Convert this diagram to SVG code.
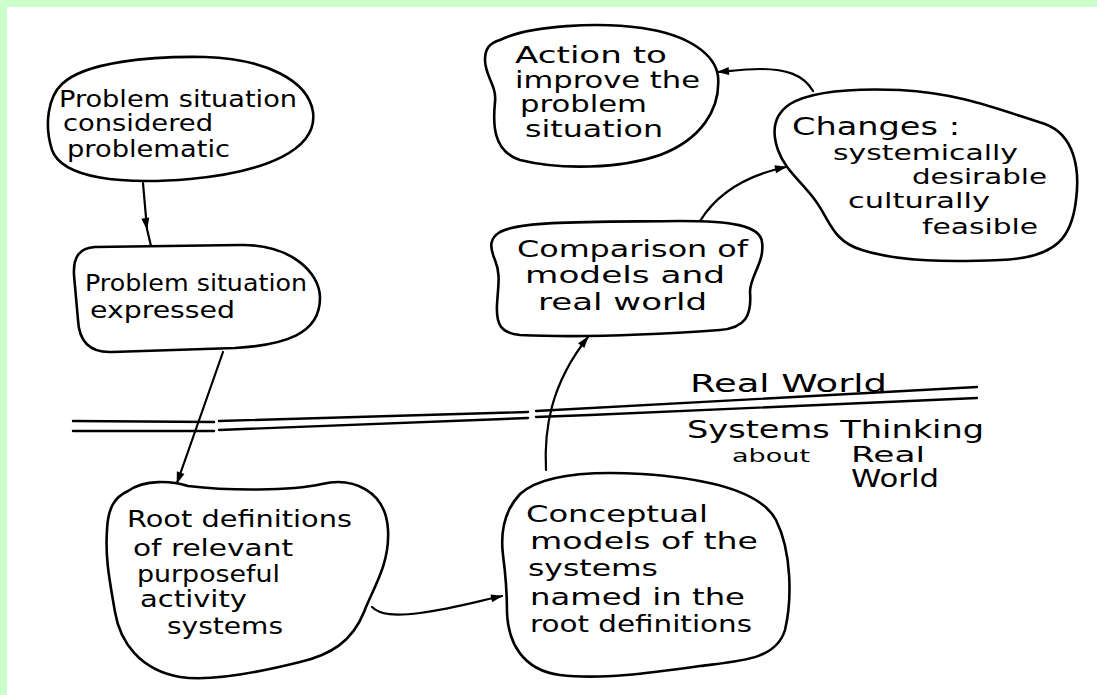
<svg xmlns="http://www.w3.org/2000/svg" width="1097" height="695" viewBox="0 0 1097 695">
<defs>
<style>
.blob{fill:#fff;stroke:#000;stroke-width:2.6;stroke-linejoin:round}
.con{fill:none;stroke:#000;stroke-width:2.2;stroke-linecap:round}
.div{fill:none;stroke:#000;stroke-width:2.4;stroke-linecap:round}
text{font-family:"DejaVu Sans","Liberation Sans",sans-serif;font-size:23px;fill:#000}
.big{font-size:24px}
.sm{font-size:18px}
.md{font-size:21px}
</style>
<marker id="ah" viewBox="0 0 12 10" refX="11" refY="5" markerWidth="13" markerHeight="10" orient="auto" markerUnits="userSpaceOnUse">
<path d="M0,1 L12,5 L0,9 Z" fill="#000"/>
</marker>
</defs>
<rect x="0" y="0" width="1097" height="695" fill="#fff"/>
<rect x="0" y="0" width="1097" height="7" fill="#ccffcc"/>
<rect x="0" y="0" width="7" height="695" fill="#ccffcc"/>

<g id="divider">
<path class="div" d="M73,421 L214,422 M219,421 L528,412 M536,411 L977,387"/>
<path class="div" d="M73,431 L214,431 M219,430 L528,418 M536,417 L590,415 L977,398"/>
<text class="big" x="690" y="392" textLength="197" lengthAdjust="spacingAndGlyphs">Real World</text>
<text class="big" x="687" y="438" textLength="297" lengthAdjust="spacingAndGlyphs">Systems Thinking</text>
<text class="sm" x="732" y="462" textLength="78" lengthAdjust="spacingAndGlyphs">about</text>
<text class="md" x="851" y="462" textLength="74" lengthAdjust="spacingAndGlyphs">Real</text>
<text class="big" x="851" y="487" textLength="88" lengthAdjust="spacingAndGlyphs">World</text>
</g>

<g id="connectors">
<path class="con" marker-mid="url(#ah)" d="M143,183 L147,229 L151,246"/>
<path class="con" marker-end="url(#ah)" d="M223,352 L177,483"/>
<path class="con" marker-end="url(#ah)" d="M372,607 C380,615 395,616 420,613 C450,609 475,602 502,596"/>
<path class="con" marker-end="url(#ah)" d="M546,470 C544,430 550,385 588,337"/>
<path class="con" marker-end="url(#ah)" d="M700,221 C718,192 748,175 786,167"/>
<path class="con" marker-end="url(#ah)" d="M813,91 C803,74 785,69 760,69 C745,69 730,71 718,72"/>
</g>

<g id="node-problem-considered">
<path class="blob" d="M62,84 C85,62 150,56 205,57 C265,59 308,80 313,112 C318,150 265,172 190,179 C120,185 62,178 52,150 C44,125 48,97 62,84 Z"/>
<text x="59" y="107" textLength="238" lengthAdjust="spacingAndGlyphs">Problem situation</text>
<text x="63" y="131" textLength="150" lengthAdjust="spacingAndGlyphs">considered</text>
<text x="67" y="157" textLength="163" lengthAdjust="spacingAndGlyphs">problematic</text>
</g>

<g id="node-problem-expressed">
<path class="blob" d="M95,247 L240,245 C290,244 320,272 320,298 C320,334 285,345 235,348 L112,352 C88,353 79,340 78,320 L74,275 C73,256 80,248 95,247 Z"/>
<text x="85" y="291" textLength="222" lengthAdjust="spacingAndGlyphs">Problem situation</text>
<text x="90" y="318" textLength="145" lengthAdjust="spacingAndGlyphs">expressed</text>
</g>

<g id="node-root-definitions">
<path class="blob" d="M128,491 C145,479 172,481 188,486 C230,491 290,491 322,484 C352,477 386,490 388,530 C390,565 372,590 364,612 C352,642 330,655 300,662 C260,672 212,682 180,677 C140,670 120,642 115,612 C110,582 105,560 107,530 C108,507 115,497 128,491 Z"/>
<text x="127" y="527" textLength="225" lengthAdjust="spacingAndGlyphs">Root definitions</text>
<text x="133" y="556" textLength="160" lengthAdjust="spacingAndGlyphs">of relevant</text>
<text x="137" y="582" textLength="143" lengthAdjust="spacingAndGlyphs">purposeful</text>
<text x="140" y="607" textLength="107" lengthAdjust="spacingAndGlyphs">activity</text>
<text x="167" y="634" textLength="116" lengthAdjust="spacingAndGlyphs">systems</text>
</g>

<g id="node-conceptual-models">
<path class="blob" d="M520,494 C542,474 592,471 642,474 C702,478 760,490 776,520 C792,552 792,600 785,630 C776,660 740,661 700,666 C650,673 600,680 560,675 C522,670 508,642 507,612 C507,590 505,570 503,555 C500,530 505,510 520,494 Z"/>
<text x="526" y="522" textLength="182" lengthAdjust="spacingAndGlyphs">Conceptual</text>
<text x="530" y="549" textLength="228" lengthAdjust="spacingAndGlyphs">models of the</text>
<text x="528" y="576" textLength="130" lengthAdjust="spacingAndGlyphs">systems</text>
<text x="530" y="605" textLength="215" lengthAdjust="spacingAndGlyphs">named in the</text>
<text x="530" y="632" textLength="222" lengthAdjust="spacingAndGlyphs">root definitions</text>
</g>

<g id="node-comparison">
<path class="blob" d="M500,232 C522,220 600,222 680,221 C730,221 760,225 762,242 C765,262 750,276 750,292 C752,316 745,328 720,330 C650,335 580,338 520,335 C501,333 496,325 497,305 C498,285 501,275 495,260 C489,246 490,238 500,232 Z"/>
<text x="517" y="257" textLength="231" lengthAdjust="spacingAndGlyphs">Comparison of</text>
<text x="525" y="283" textLength="200" lengthAdjust="spacingAndGlyphs">models and</text>
<text x="538" y="310" textLength="169" lengthAdjust="spacingAndGlyphs">real world</text>
</g>

<g id="node-action">
<path class="blob" d="M500,40 C530,25 600,22 642,28 C690,35 715,55 718,76 C721,110 700,140 660,155 C620,169 560,170 520,160 C492,151 493,122 495,102 C497,86 485,76 485,60 C485,48 490,43 500,40 Z"/>
<text x="515" y="63" textLength="152" lengthAdjust="spacingAndGlyphs">Action to</text>
<text x="515" y="88" textLength="185" lengthAdjust="spacingAndGlyphs">improve the</text>
<text x="520" y="112" textLength="127" lengthAdjust="spacingAndGlyphs">problem</text>
<text x="525" y="137" textLength="138" lengthAdjust="spacingAndGlyphs">situation</text>
</g>

<g id="node-changes">
<path class="blob" d="M790,104 C810,92 850,88 900,90 C960,93 1000,110 1045,124 C1075,135 1080,170 1076,200 C1072,236 1058,258 1000,260 C950,262 900,262 862,250 C832,241 830,220 815,200 C800,180 785,170 778,150 C771,130 775,114 790,104 Z"/>
<text class="big" x="792" y="135" textLength="168" lengthAdjust="spacingAndGlyphs">Changes :</text>
<text class="md" x="833" y="160" textLength="185" lengthAdjust="spacingAndGlyphs">systemically</text>
<text class="md" x="912" y="184" textLength="135" lengthAdjust="spacingAndGlyphs">desirable</text>
<text class="md" x="848" y="208" textLength="142" lengthAdjust="spacingAndGlyphs">culturally</text>
<text class="md" x="922" y="234" textLength="116" lengthAdjust="spacingAndGlyphs">feasible</text>
</g>
</svg>
